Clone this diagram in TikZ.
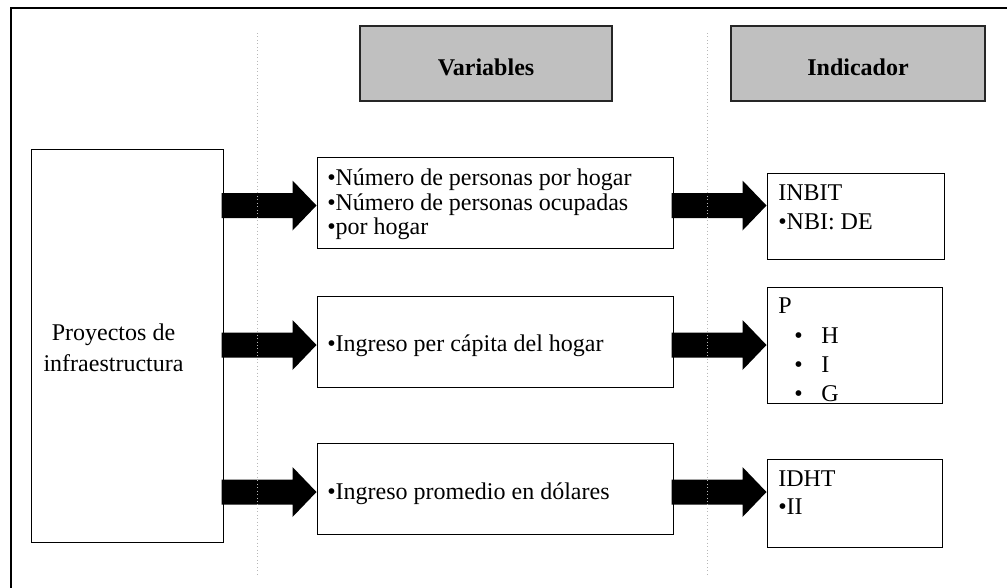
\documentclass[tikz,border=0pt]{standalone}
\usepackage{fontspec}
\setmainfont{Liberation Serif}
\usetikzlibrary{calc}
\definecolor{headgray}{HTML}{C0C0C0}
\definecolor{dotgray}{HTML}{B8B8B8}
\begin{document}
\begin{tikzpicture}[x=0.75pt,y=-0.75pt,
  box/.style={draw=black, line width=0.75pt, inner sep=0pt, fill=white},
  headbox/.style={draw=black!85, line width=1pt, inner sep=0pt, fill=headgray},
  txt/.style={inner sep=0pt, anchor=base west, font=\fontsize{18}{20}\selectfont},
  headtxt/.style={inner sep=0pt, anchor=base, font=\fontsize{18}{20}\selectfont\bfseries},
  blockarrow/.style={fill=black, to path={let \p1=(\tikztostart), \p2=(\tikztotarget) in
     (\x1,\y2+9.375pt) -- (\x2-18pt,\y2+9.375pt) -- (\x2-18pt,\y2+18.75pt) -- (\x2,\y2)
     -- (\x2-18pt,\y2-18.75pt) -- (\x2-18pt,\y2-9.375pt) -- (\x1,\y2-9.375pt) -- cycle}},
  guide/.style={draw=dotgray, line width=0.6pt, dotted}
]
\useasboundingbox (0,0) rectangle (1007,587);
\clip (0,0) rectangle (1007,587);
\fill[white] (0,0) rectangle (1007,587);

% outer frame (right and bottom beyond the page)
\draw[line width=1.5pt] (11,8) rectangle (1030,610);

% header boxes
\node[headbox, minimum width=189pt, minimum height=56.25pt] (hv) at (486,63.5) {};
\node[headtxt] (hvt) at (486,75) {Variables};
\node[headbox, minimum width=190.5pt, minimum height=56.25pt] (hi) at (858,63.5) {};
\node[headtxt] (hit) at (858,75) {Indicador};

% left box
\node[box, minimum width=144pt, minimum height=294.75pt] (proy) at (127,345.5) {};
\node[txt, anchor=base] (proyt1) at (113.5,340) {Proyectos de};
\node[txt, anchor=base] (proyt2) at (113.5,371) {infraestructura};

% variable boxes
\node[box, minimum width=267pt, minimum height=68.25pt] (v1) at (495,202.5) {};
\node[box, minimum width=267pt, minimum height=68.25pt] (v2) at (495,341.5) {};
\node[box, minimum width=267pt, minimum height=68.25pt] (v3) at (495,488.5) {};
\node[txt] (v1a) at (327,185) {•Número de personas por hogar};
\node[txt] (v1b) at (327,210) {•Número de personas ocupadas};
\node[txt] (v1c) at (327,234) {•por hogar};
\node[txt] (v2a) at (327,351) {•Ingreso per cápita del hogar};
\node[txt] (v3a) at (327,499) {•Ingreso promedio en dólares};

% indicator boxes
\node[box, minimum width=132.75pt, minimum height=64.5pt] (i1) at (855.5,216) {};
\node[box, minimum width=131.25pt, minimum height=87pt] (i2) at (854.5,345) {};
\node[box, minimum width=131.25pt, minimum height=66pt] (i3) at (854.5,503) {};
\node[txt] (i1a) at (778,200) {INBIT};
\node[txt] (i1b) at (778,229) {•NBI: DE};
\node[txt] (i2a) at (778,313) {P};
\node[txt] (i2b1) at (794,343) {•};
\node[txt] (i2b2) at (794,372) {•};
\node[txt] (i2b3) at (794,401) {•};
\node[txt] (i2h) at (821,343) {H};
\node[txt] (i2i) at (821,372) {I};
\node[txt] (i2g) at (821,401) {G};
\node[txt] (i3a) at (778,486) {IDHT};
\node[txt] (i3b) at (778,514) {•II};

% block arrows
\path[blockarrow] ([xshift=-1.5pt]proy.east) to ($(v1.west)+(0,3)$);
\path[blockarrow] ([xshift=-1.5pt]proy.east) to ($(v2.west)+(0,3.5)$);
\path[blockarrow] ([xshift=-1.5pt]proy.east) to ($(v3.west)+(0,3.5)$);
\path[blockarrow] ([xshift=-1.5pt]v1.east) to ($(i1.west |- v1.east)+(0,3)$);
\path[blockarrow] ([xshift=-1.5pt]v2.east) to ($(i2.west |- v2.east)+(0,3.5)$);
\path[blockarrow] ([xshift=-1.5pt]v3.east) to ($(i3.west |- v3.east)+(0,3.5)$);

% dotted guides
\coordinate (g1t) at (257,33);
\coordinate (g1b) at (257,574);
\coordinate (g2t) at (707,33);
\coordinate (g2b) at (707,574);
\draw[guide] (g1t) -- (g1b);
\draw[guide] (g2t) -- (g2b);
\end{tikzpicture}
\end{document}
